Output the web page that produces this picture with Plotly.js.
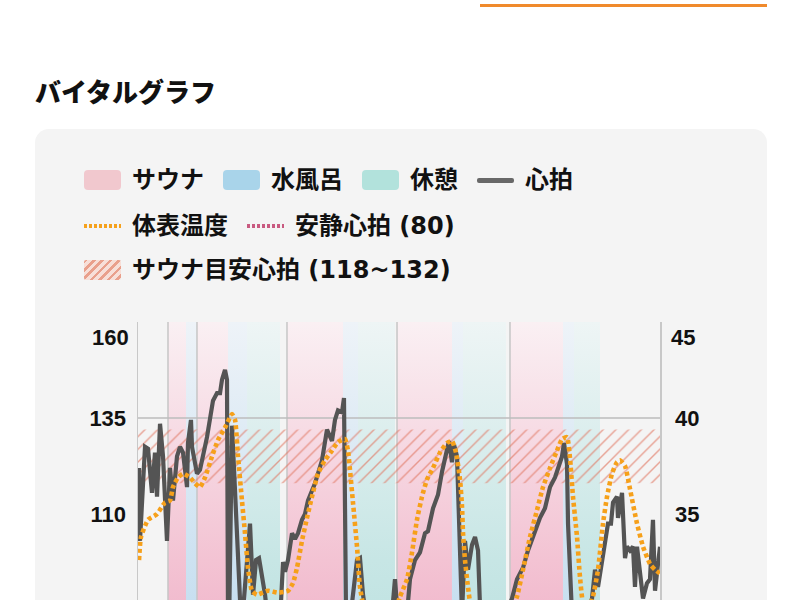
<!DOCTYPE html>
<html lang="ja">
<head>
<meta charset="utf-8">
<script src="https://cdn.plot.ly/plotly-3.0.1.min.js"></script>
<style>
html,body{margin:0;padding:0;background:#ffffff;width:800px;height:600px;overflow:hidden;}
body{position:relative;font-family:"Noto Sans CJK JP","Noto Sans",sans-serif;}
#tab{position:absolute;left:480px;top:4px;width:287px;height:3px;background:#f08a2c;}
#title{position:absolute;left:35px;top:76px;font-size:26px;font-weight:900;line-height:30px;color:#111;white-space:nowrap;}
#card{position:absolute;left:35px;top:129px;width:732px;height:760px;background:#f4f4f4;border-radius:14px;}
.row{position:absolute;left:49px;display:flex;align-items:center;height:30px;white-space:nowrap;}
.item{display:flex;align-items:center;margin-right:19px;}
.sw{width:37px;height:20px;border-radius:4px;margin-right:11px;flex:none;}
.txt{font-size:24px;font-weight:700;color:#111;line-height:30px;font-family:"DejaVu Sans","Noto Sans CJK JP",sans-serif;}
.lineSw{display:flex;align-items:center;background:none;}
.lineSw i{display:block;width:37px;}
#chart{position:absolute;left:35px;top:300px;width:732px;height:500px;}
</style>
</head>
<body>
<div id="tab"></div>
<div id="title">バイタルグラフ</div>
<div id="card">
  <div class="row" style="top:36px;">
    <div class="item"><span class="sw" style="background:#f1c8ce;"></span><span class="txt">サウナ</span></div>
    <div class="item"><span class="sw" style="background:#a9d4ea;"></span><span class="txt">水風呂</span></div>
    <div class="item"><span class="sw" style="background:#b2e2dc;"></span><span class="txt">休憩</span></div>
    <div class="item"><span class="sw lineSw"><i style="height:5px;background:#686868;border-radius:2px;"></i></span><span class="txt">心拍</span></div>
  </div>
  <div class="row" style="top:82px;">
    <div class="item"><span class="sw lineSw"><i style="height:4px;background:repeating-linear-gradient(90deg,#f5a11c 0 3px,rgba(0,0,0,0) 3px 5px);"></i></span><span class="txt">体表温度</span></div>
    <div class="item"><span class="sw lineSw"><i style="height:4px;background:repeating-linear-gradient(90deg,#c85a80 0 3px,rgba(0,0,0,0) 3px 5px);"></i></span><span class="txt">安静心拍 (80)</span></div>
  </div>
  <div class="row" style="top:126px;">
    <div class="item"><span class="sw" style="border-radius:2px;background:repeating-linear-gradient(135deg,#e9a08c 0 2.5px,#f7dfd8 2.5px 6px);"></span><span class="txt">サウナ目安心拍 (118~132)</span></div>
  </div>
</div>
<div id="chart"></div>
<script>
// ---- data (time in minutes from start of record) ----
const saunaStart = [5.0, 9.83, 24.83, 43.17, 62.0];
const saunaEnd   = [8.0, 15.0, 34.17, 52.33, 70.83];
const waterStart = [8.0, 15.0, 34.17, 52.33, 70.83];
const waterEnd   = [9.83, 18.17, 36.67, 54.17, 72.67];
const restStart  = [18.17, 36.67, 54.17, 72.67];
const restEnd    = [23.67, 42.83, 61.33, 77.0];

const hrTime = [0.17,0.33,1.17,1.67,2.33,2.83,3.17,3.67,4.17,4.83,5.33,5.83,6.5,7.0,7.5,8.17,8.33,8.83,9.0,9.83,
  10.33,11.5,12.5,13.17,13.67,14.0,14.5,14.83,15.0,15.17,15.67,16.17,16.67,17.17,17.67,18.67,19.17,19.67,20.17,21.17,
  21.67,22.83,23.67,24.17,24.5,25.0,25.67,26.17,26.67,27.33,27.83,28.33,29.5,30.67,31.5,32.33,32.83,33.33,34.0,34.33,
  34.67,35.17,36.5,37.0,37.5,38.17,40.33,42.33,42.83,43.17,44.83,45.33,46.17,47.0,47.83,48.33,49.17,50.0,50.67,51.5,
  51.83,52.33,52.67,53.17,53.67,54.0,54.5,55.0,55.67,56.17,56.67,57.0,58.67,60.33,61.5,62.33,63.17,64.17,65.0,65.83,
  67.0,67.83,68.67,69.5,70.0,70.67,71.0,71.5,71.67,72.33,73.17,74.5,75.67,76.17,76.67,77.33,77.83,78.33,78.83,79.17,
  79.83,80.0,80.67,81.17,81.5,82.0,82.5,82.83,83.17,83.67,84.17,84.83,85.33,85.83,86.17,86.67,87.0];
const heartRate = [122,103,127.5,127,115.5,126,114.5,133.5,125,103,122,113.5,125,127.5,126,117,128.5,134.5,127.5,120.5,
  121.5,130,139.5,141.5,141.5,145,147.5,145,84,80,133,117,96,82,88,107.5,89,98,98.5,89,
  82,80,82,97.5,95,98,105,103.5,105,108.5,110,113.5,118,124,132,129,134.5,137,136.5,140.2,
  84,80,98,98.5,89,82,80,84,93,86,84,93,98,100,105,105.5,111.5,115,121,127,
  129,123.5,128,125,102,84,103,95.5,102,104,100.5,86,80,82,85,88,93,96,100.5,104,
  109,111.5,117,119.5,122,125,128.5,123,107.5,84,80,82,88,95.5,91,97,102.5,107.5,107.5,113,
  114.5,109,115.5,98.5,101.5,100.5,101.5,91,101.5,93.5,88,92,93,108.5,90,97,101.5];

const tempTime = [0.17,0.5,1.67,3.17,4.5,5.33,5.83,6.67,7.5,8.67,9.5,10.33,11.17,12.33,13.33,14.5,15.67,16.17,16.67,17.33,
  17.83,18.33,19.0,19.83,21.67,23.33,25.0,25.83,26.5,27.33,28.17,29.0,30.0,31.17,32.33,33.33,34.5,35.0,35.33,35.83,
  36.5,37.0,37.83,40.33,42.83,43.67,44.83,45.67,46.5,47.33,48.17,49.17,50.33,51.5,52.33,53.0,53.67,54.0,54.17,54.5,
  55.0,55.67,58.67,62.0,63.17,64.17,65.33,66.5,67.5,68.67,69.83,70.67,71.5,72.0,72.5,73.17,73.67,74.33,75.33,75.83,
  76.67,77.5,78.17,79.0,79.83,80.33,81.17,82.0,83.17,84.17,85.33,86.17,87.0];
const skinTemp = [32.6,33.8,34.7,35.0,35.6,35.7,36.4,36.9,37.1,36.9,36.6,36.4,36.9,38.0,38.85,39.5,40.2,39.9,38.0,35.7,
  34.0,32.2,31.0,30.8,31.0,30.9,31.0,31.4,32.2,33.6,34.8,35.9,37.1,37.8,38.3,38.75,38.9,38.3,37.3,35.6,
  33.3,31.2,30.0,29.5,30.0,30.7,31.6,33.0,34.7,35.9,36.8,37.4,38.2,38.7,38.8,38.2,36.8,35.4,34.0,32.6,
  31.2,30.0,29.3,29.8,30.7,32.1,33.8,35.2,36.4,37.4,38.3,38.9,39.0,37.9,35.9,33.8,31.7,30.2,30.3,30.7,
  32.1,34.5,35.9,37.1,37.7,37.8,37.5,36.3,34.5,33.3,32.4,32.1,31.9];

const restingHR = 80;
const targetHR = [118, 132];
const hrRange = [60, 160];
const tempRange = [25, 45];
const timeRange = [0, 87];
const hrTicks = [110, 135];
const tempTicks = [35, 40];
const refLineHR = 135;

// ---- helpers ----
function bandTrace(starts, ends, colorscale) {
  const x = [], y = [];
  starts.forEach((s, i) => {
    const e = ends[i];
    x.push(s, e, e, s, s, null);
    y.push(hrRange[0], hrRange[0], hrRange[1], hrRange[1], hrRange[0], null);
  });
  return {
    x, y, type: 'scatter', mode: 'lines', fill: 'toself',
    line: {width: 0, color: 'rgba(0,0,0,0)'},
    fillgradient: {type: 'vertical', start: hrRange[0], stop: hrRange[1], colorscale},
    hoverinfo: 'skip', showlegend: false
  };
}

const gx = [], gy = [];
saunaStart.forEach(s => { gx.push(s, s, null); gy.push(hrRange[0], hrRange[1], null); });

const traces = [
  bandTrace(saunaStart, saunaEnd, [[0, '#eeaac3'], [0.38, '#f3c3d3'], [1, '#faf0f3']]),
  bandTrace(waterStart, waterEnd, [[0, '#bad8ee'], [0.38, '#cde2f1'], [1, '#eef3f8']]),
  bandTrace(restStart, restEnd, [[0, '#b7dfde'], [0.38, '#c7e6e5'], [1, '#eef5f5']]),
  {x: gx, y: gy, type: 'scatter', mode: 'lines', line: {color: '#c6c6c6', width: 1.5}, hoverinfo: 'skip', showlegend: false},
  {x: timeRange, y: [refLineHR, refLineHR], type: 'scatter', mode: 'lines', line: {color: '#bdbdbd', width: 1.5}, hoverinfo: 'skip', showlegend: false},
  {
    x: [timeRange[0], timeRange[1], timeRange[1], timeRange[0], timeRange[0]],
    y: [targetHR[0], targetHR[0], targetHR[1], targetHR[1], targetHR[0]],
    type: 'scatter', mode: 'lines', fill: 'toself', line: {width: 0, color: 'rgba(0,0,0,0)'},
    fillcolor: 'rgba(0,0,0,0)',
    fillpattern: {shape: '/', fgcolor: 'rgba(224,118,96,0.65)', bgcolor: 'rgba(0,0,0,0)', size: 9, solidity: 0.16},
    name: 'サウナ目安心拍 (118~132)', hoverinfo: 'skip', showlegend: false
  },
  {x: timeRange, y: [restingHR, restingHR], type: 'scatter', mode: 'lines', line: {color: '#c85a80', width: 3, dash: '3px,2px'}, name: '安静心拍 (80)', showlegend: false},
  {x: hrTime, y: heartRate, type: 'scatter', mode: 'lines', line: {color: '#545454', width: 4.2}, name: '心拍', showlegend: false},
  {x: tempTime, y: skinTemp, yaxis: 'y2', type: 'scatter', mode: 'lines', line: {color: '#f6a01a', width: 4.6, dash: '4px,3px', shape: 'spline', smoothing: 0.5}, name: '体表温度', showlegend: false}
];

const tickFont = {family: 'Liberation Sans, Arial, sans-serif', size: 22, weight: 700, color: '#111111'};

const layout = {
  width: 732, height: 500,
  margin: {l: 103, r: 107, t: 22, b: 94, pad: 0},
  paper_bgcolor: 'rgba(0,0,0,0)', plot_bgcolor: 'rgba(0,0,0,0)',
  showlegend: false,
  xaxis: {range: timeRange, tickvals: saunaStart, showticklabels: false, ticks: '', showgrid: false, zeroline: false, showline: false, fixedrange: true},
  yaxis: {range: hrRange, tickvals: hrTicks, ticks: 'outside', ticklen: 6, tickcolor: 'rgba(0,0,0,0)', showgrid: false, zeroline: false,
          showline: true, linecolor: '#c8c8c8', linewidth: 1.5, tickfont: tickFont, fixedrange: true},
  yaxis2: {range: tempRange, tickvals: tempTicks, overlaying: 'y', side: 'right', ticks: 'outside', ticklen: 9, tickcolor: 'rgba(0,0,0,0)',
           showgrid: false, zeroline: false, showline: true, linecolor: '#c8c8c8', linewidth: 1.5, tickfont: tickFont, fixedrange: true},
  annotations: [
    {xref: 'paper', x: 0, xanchor: 'right', xshift: -7, yref: 'y', y: hrRange[1], yanchor: 'top', yshift: -1,
     text: String(hrRange[1]), showarrow: false, font: tickFont},
    {xref: 'paper', x: 1, xanchor: 'left', xshift: 9, yref: 'y2', y: tempRange[1], yanchor: 'top', yshift: -1,
     text: String(tempRange[1]), showarrow: false, font: tickFont}
  ]
};

Plotly.newPlot('chart', traces, layout, {staticPlot: true, displayModeBar: false});
</script>
</body>
</html>
